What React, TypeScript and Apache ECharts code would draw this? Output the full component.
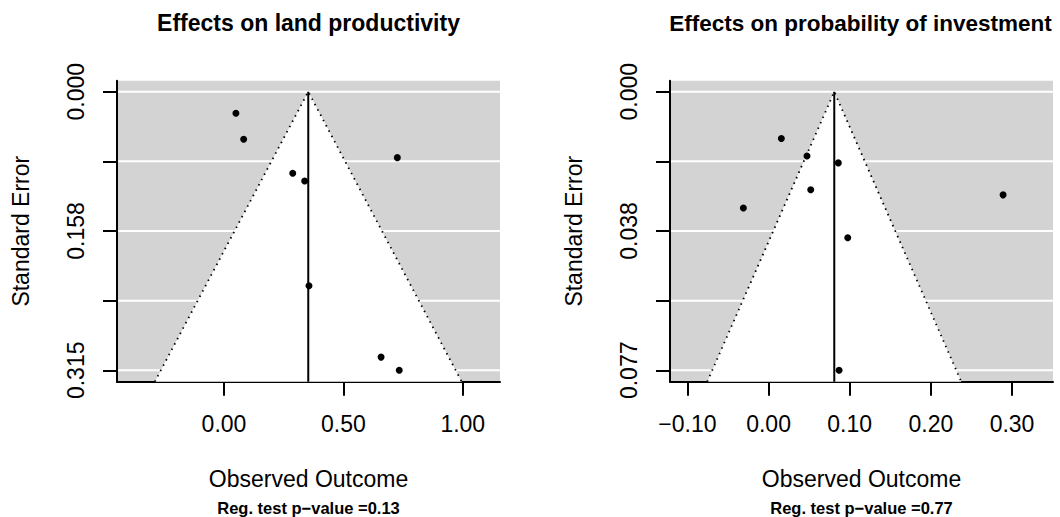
import React, { useEffect, useRef } from "react";
import * as echarts from "echarts";

const FONT = '"Liberation Sans", Arial, Helvetica, sans-serif';

// ---- Panel 1: land productivity ----
const landTitle = "Effects on land productivity";
const landSubtitle = "Reg. test p\u2212value =0.13";
const landEffect = [0.05, 0.0825, 0.726, 0.288, 0.338, 0.356, 0.658, 0.734];
const landSE = [0.0244, 0.0538, 0.0746, 0.0922, 0.1009, 0.2195, 0.3001, 0.315];
const landEstimate = 0.353;
const landXTicks = [0, 0.5, 1];
const landXLabels = ["0.00", "0.50", "1.00"];
const landYTicks = [0, 0.07875, 0.1575, 0.23625, 0.315];
const landYLabels = ["0.000", "", "0.158", "", "0.315"];
const landXRange = [-0.448, 1.156];
const landYRange = [-0.0124, 0.3279];

// ---- Panel 2: probability of investment ----
const invTitle = "Effects on probability of investment";
const invSubtitle = "Reg. test p\u2212value =0.77";
const invEffect = [0.0158, 0.0474, 0.086, 0.052, -0.031, 0.289, 0.0976, 0.0869];
const invSE = [0.0129, 0.0177, 0.0196, 0.027, 0.032, 0.0284, 0.0402, 0.0767];
const invEstimate = 0.081;
const invXTicks = [-0.1, 0, 0.1, 0.2, 0.3];
const invXLabels = ["\u22120.10", "0.00", "0.10", "0.20", "0.30"];
const invYTicks = [0, 0.019175, 0.03835, 0.057525, 0.0767];
const invYLabels = ["0.000", "", "0.038", "", "0.077"];
const invXRange = [-0.1214, 0.3505];
const invYRange = [-0.00303, 0.07984];

const Z95 = 1.96;

type Panel = {
  title: string;
  subtitle: string;
  effect: number[];
  se: number[];
  estimate: number;
  xTicks: number[];
  xLabels: string[];
  yTicks: number[];
  yLabels: string[];
  xRange: number[];
  yRange: number[];
  left: number;
};

const panels: Panel[] = [
  {
    title: landTitle, subtitle: landSubtitle, effect: landEffect, se: landSE,
    estimate: landEstimate, xTicks: landXTicks, xLabels: landXLabels,
    yTicks: landYTicks, yLabels: landYLabels, xRange: landXRange, yRange: landYRange,
    left: 117,
  },
  {
    title: invTitle, subtitle: invSubtitle, effect: invEffect, se: invSE,
    estimate: invEstimate, xTicks: invXTicks, xLabels: invXLabels,
    yTicks: invYTicks, yLabels: invYLabels, xRange: invXRange, yRange: invYRange,
    left: 670,
  },
];

const GRID_W = 383;
const GRID_TOP = 80.7;
const GRID_H = 301;

function labelFor(ticks: number[], labels: string[]) {
  return (v: number) => {
    for (let i = 0; i < ticks.length; i++) {
      if (Math.abs(ticks[i] - v) < 1e-9) return labels[i];
    }
    return "";
  };
}

export default function App() {
  const ref = useRef<HTMLDivElement>(null);

  useEffect(() => {
    if (!ref.current) return;
    const chart = echarts.init(ref.current, undefined, { renderer: "svg" });

    const grids: any[] = [];
    const xAxes: any[] = [];
    const yAxes: any[] = [];
    const series: any[] = [];
    const graphics: any[] = [];

    panels.forEach((p, i) => {
      grids.push({
        left: p.left,
        top: GRID_TOP,
        width: GRID_W,
        height: GRID_H,
        show: true,
        backgroundColor: "#d3d3d3",
        borderWidth: 0,
        containLabel: false,
      });
      xAxes.push({
        type: "value",
        gridIndex: i,
        min: p.xRange[0],
        max: p.xRange[1],
        axisLine: { show: true, onZero: false, lineStyle: { color: "#000", width: 2 } },
        axisTick: {
          show: true,
          customValues: p.xTicks,
          length: 14,
          lineStyle: { color: "#000", width: 2 },
        },
        axisLabel: {
          customValues: p.xTicks,
          formatter: labelFor(p.xTicks, p.xLabels),
          color: "#000",
          fontSize: 23,
          fontFamily: FONT,
          margin: 31,
        },
        splitLine: { show: false },
        name: "Observed Outcome",
        nameLocation: "middle",
        nameGap: 86,
        nameTextStyle: { color: "#000", fontSize: 23, fontFamily: FONT },
      });
      yAxes.push({
        type: "value",
        gridIndex: i,
        inverse: true,
        min: p.yRange[0],
        max: p.yRange[1],
        axisLine: { show: true, onZero: false, lineStyle: { color: "#000", width: 2 } },
        axisTick: {
          show: true,
          customValues: p.yTicks,
          length: 14,
          lineStyle: { color: "#000", width: 2 },
        },
        axisLabel: {
          customValues: p.yTicks,
          formatter: labelFor(p.yTicks, p.yLabels),
          rotate: 90,
          color: "#000",
          fontSize: 23,
          fontFamily: FONT,
          margin: 30,
        },
        splitLine: { show: false },
        name: "Standard Error",
        nameLocation: "middle",
        nameGap: 85,
        nameRotate: 90,
        nameTextStyle: { color: "#000", fontSize: 23, fontFamily: FONT },
      });

      const yMax = p.yRange[1];
      series.push({
        type: "custom",
        xAxisIndex: i,
        yAxisIndex: i,
        z: 1,
        silent: true,
        data: [[p.estimate, 0]],
        renderItem: (_params: any, api: any) => {
          const apex = api.coord([p.estimate, 0]);
          const bl = api.coord([p.estimate - Z95 * yMax, yMax]);
          const br = api.coord([p.estimate + Z95 * yMax, yMax]);
          const gridLines = p.yTicks.map((t) => {
            const a = api.coord([p.xRange[0], t]);
            const b = api.coord([p.xRange[1], t]);
            return {
              type: "line",
              shape: { x1: a[0] + 1, y1: a[1], x2: b[0], y2: b[1] },
              style: { stroke: "#ffffff", lineWidth: 2 },
            };
          });
          return {
            type: "group",
            children: [
              ...gridLines,
              {
                type: "polygon",
                shape: { points: [apex, bl, br] },
                style: { fill: "#ffffff" },
              },
              {
                type: "polyline",
                shape: { points: [bl, apex, br] },
                style: { stroke: "#000", lineWidth: 1.8, lineDash: [1.5, 4.5], fill: null },
              },
            ],
          };
        },
      });
      series.push({
        type: "line",
        xAxisIndex: i,
        yAxisIndex: i,
        z: 2,
        silent: true,
        symbol: "none",
        data: [
          [p.estimate, 0],
          [p.estimate, yMax],
        ],
        lineStyle: { color: "#000", width: 2 },
      });
      series.push({
        type: "scatter",
        xAxisIndex: i,
        yAxisIndex: i,
        z: 3,
        symbol: "circle",
        symbolSize: 7,
        itemStyle: { color: "#000", opacity: 1 },
        data: p.effect.map((x, k) => [x, p.se[k]]),
      });

      const cx = p.left + GRID_W / 2;
      graphics.push({
        type: "text",
        x: cx - (i === 1 ? 1 : 0),
        y: 23,
        style: {
          text: p.title,
          align: "center",
          verticalAlign: "middle",
          fontSize: i === 1 ? 22.5 : 23,
          fontWeight: "bold",
          fontFamily: FONT,
          fill: "#000",
        },
      });
      graphics.push({
        type: "text",
        x: cx,
        y: 508,
        style: {
          text: p.subtitle,
          align: "center",
          verticalAlign: "middle",
          fontSize: 16.5,
          fontWeight: "bold",
          fontFamily: FONT,
          fill: "#000",
        },
      });
    });

    chart.setOption({
      animation: false,
      backgroundColor: "#ffffff",
      grid: grids,
      xAxis: xAxes,
      yAxis: yAxes,
      series,
      graphic: graphics,
    });

    return () => chart.dispose();
  }, []);

  return (
    <div
      ref={ref}
      style={{ position: "absolute", left: 0, top: 0, width: 1060, height: 517 }}
    />
  );
}
